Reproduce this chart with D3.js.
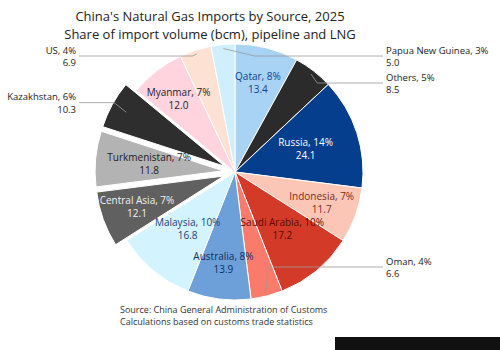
<!DOCTYPE html>
<html><head><meta charset="utf-8">
<script src="https://cdn.jsdelivr.net/npm/d3@7"></script>
<style>html,body{margin:0;padding:0;background:#fff;}svg{display:block;font-family:"Open Sans","Noto Sans",sans-serif;}</style>
</head><body><svg id="c" width="500" height="350"></svg>
<script>
const categories = ["Qatar","Others","Russia","Indonesia","Saudi Arabia","Oman","Australia","Malaysia","Central Asia","Turkmenistan","Kazakhstan","Myanmar","US","Papua New Guinea"];
const shares = [8,5,14,7,10,4,8,10,7,7,6,7,4,3];
const volumes = [13.4,8.5,24.1,11.7,17.2,6.6,13.9,16.8,12.1,11.8,10.3,12.0,6.9,5.0];
const colors = ["#a9d3f5","#2b2b2b","#053e8c","#fcc6b6","#d43a28","#fa7b6b","#6d9fd9","#d3f4fe","#606060","#b3b3b3","#2e2e2e","#ffd4df","#fde2d3","#cfeffd"];
const textColors = ["#123f8f","#ffffff","#ffffff","#7a2a1a","#5a0c05","#5a0c05","#0e2f66","#1d3f7a","#f0f0f0","#222222","#ffffff","#222222","#222222","#1a4fb0"];
const exploded = ["Central Asia","Turkmenistan","Kazakhstan"];
const forceRight = ["Papua New Guinea"];
const titleLines = ["China's Natural Gas Imports by Source, 2025","Share of import volume (bcm), pipeline and LNG"];
const sourceLines = ["Source: China General Administration of Customs","Calculations based on customs trade statistics"];

const svg = d3.select("#c");
const cx = 235, cy = 172, r = 128;
const data = categories.map((c,i)=>({name:c, share:shares[i], vol:volumes[i], color:colors[i], tc:textColors[i]}));
const pie = d3.pie().value(d=>d.share).sort(null);
const arcs = pie(data);
const arc = d3.arc().innerRadius(0).outerRadius(r);
const g = svg.append("g").attr("transform",`translate(${cx},${cy})`);

function off(d){
  if(!exploded.includes(d.data.name)) return [0,0];
  const a=(d.startAngle+d.endAngle)/2; return [Math.sin(a)*12, -Math.cos(a)*12];
}
g.selectAll("path").data(arcs).join("path")
  .attr("d",arc).attr("fill",d=>d.data.color)
  .attr("stroke","#fff").attr("stroke-width",1)
  .attr("transform",d=>{const o=off(d);return `translate(${o[0]},${o[1]})`;});

// inside labels (alternating radius to avoid collisions)
const inner = arcs.filter(d=>d.data.share>=7);
inner.forEach((d,k)=>{
  const rr = r*(k%2===0 ? 0.72 : 0.58);
  const c=d3.arc().innerRadius(rr).outerRadius(rr).centroid(d), o=off(d);
  const t=g.append("text").attr("text-anchor","middle").attr("font-size",10).attr("fill",d.data.tc)
    .attr("transform",`translate(${c[0]+o[0]},${c[1]+o[1]})`);
  t.append("tspan").attr("x",0).attr("dy","-0.3em").text(`${d.data.name}, ${d.data.share}%`);
  t.append("tspan").attr("x",0).attr("dy","1.3em").text(d3.format(".1f")(d.data.vol));
});

// outside labels
const outer = arcs.filter(d=>d.data.share<7).map(d=>{
  const a=(d.startAngle+d.endAngle)/2;
  const right = forceRight.includes(d.data.name) || Math.sin(a)>=0;
  let y = -Math.cos(a)*(r+16);
  y = Math.max(-116, Math.min(95, y));
  return {d,a,right,y};
});
["L","R"].forEach(side=>{
  const grp = outer.filter(o=>(o.right?"R":"L")===side).sort((p,q)=>p.y-q.y);
  for(let i=1;i<grp.length;i++) if(grp[i].y-grp[i-1].y<27) grp[i].y=grp[i-1].y+27;
});
outer.forEach(o=>{
  const p1=[Math.sin(o.a)*(r-4), -Math.cos(o.a)*(r-4)];
  const xEnd = o.right ? r+20 : -(r+28);
  const p2=[o.right ? Math.max(Math.sin(o.a)*(r+6), 20) : Math.min(Math.sin(o.a)*(r+10), -20), o.y];
  g.append("polyline").attr("points",[p1,p2,[xEnd,o.y]].map(p=>p.join(",")).join(" "))
    .attr("fill","none").attr("stroke","#999").attr("stroke-width",0.8);
  const t=g.append("text").attr("font-size",9.5).attr("fill","#222")
    .attr("text-anchor",o.right?"start":"end")
    .attr("transform",`translate(${xEnd+(o.right?3:-3)},${o.y})`);
  t.append("tspan").attr("x",0).attr("dy","-0.25em").text(`${o.d.data.name}, ${o.d.data.share}%`);
  t.append("tspan").attr("x",0).attr("dy","1.3em").text(d3.format(".1f")(o.d.data.vol));
});

// title
svg.append("text").attr("x",210).attr("y",21).attr("text-anchor","middle").attr("font-size",13).attr("fill","#222")
  .selectAll("tspan").data(titleLines).join("tspan").attr("x",210).attr("dy",(d,i)=>i?"1.35em":0).text(d=>d);

// source
svg.append("text").attr("x",120).attr("y",313).attr("font-size",9).attr("fill","#333")
  .selectAll("tspan").data(sourceLines).join("tspan").attr("x",120).attr("dy",(d,i)=>i?"1.3em":0).text(d=>d);

svg.append("rect").attr("x",335).attr("y",337).attr("width",165).attr("height",13).attr("fill","#111");
</script></body></html>
